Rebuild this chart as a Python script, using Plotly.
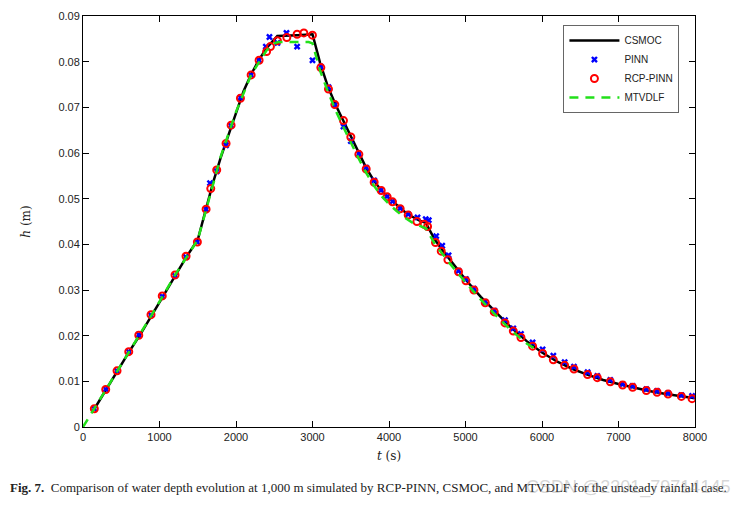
import plotly.graph_objects as go

# CSMOC reference solution
csmoc_t = [150, 300, 450, 600, 750, 900, 1050, 1200, 1350, 1500, 1600, 1700, 1800, 1900, 2000,
           2100, 2200, 2300, 2400, 2500, 2540, 2800, 3000, 3100, 3200, 3300, 3400, 3500, 3600,
           3700, 3800, 3900, 4000, 4100, 4200, 4300, 4400, 4480, 4550, 4600, 4700, 4800, 4900,
           5000, 5200, 5400, 5600, 5800, 6000, 6200, 6400, 6600, 6800, 7000, 7200, 7400, 7600,
           7800, 8000]
csmoc_h = [0.0040, 0.0082, 0.0123, 0.0164, 0.0203, 0.0244, 0.0287, 0.0330, 0.0372, 0.0410,
           0.0472, 0.0535, 0.0590, 0.0640, 0.0690, 0.0736, 0.0773, 0.0804, 0.0830, 0.0850,
           0.0856, 0.0858, 0.0860, 0.0797, 0.0746, 0.0706, 0.0672, 0.0636, 0.0601, 0.0568,
           0.0540, 0.0518, 0.0501, 0.0486, 0.0472, 0.0461, 0.0452, 0.0447, 0.0425, 0.0410,
           0.0387, 0.0365, 0.0343, 0.0323, 0.0285, 0.0250, 0.0217, 0.0188, 0.0163, 0.0143,
           0.0127, 0.0114, 0.0103, 0.0094, 0.0086, 0.0079, 0.0073, 0.0068, 0.0063]

# PINN
pinn_t = [148, 297, 445, 598, 729, 889, 1036, 1203, 1347, 1495, 1609, 1660, 1748, 1870, 1936,
          2058, 2198, 2302, 2390, 2437, 2542, 2660, 2799, 3000, 3109, 3209, 3292, 3405, 3501,
          3606, 3702, 3806, 3898, 3976, 4046, 4146, 4251, 4373, 4480, 4520, 4617, 4696, 4779,
          4909, 5006, 5110, 5258, 5376, 5516, 5625, 5725, 5877, 6008, 6148, 6296, 6418, 6596,
          6723, 6893, 7054, 7185, 7364, 7504, 7648, 7822, 7962]
pinn_h = [0.0040, 0.0083, 0.0123, 0.0165, 0.0202, 0.0245, 0.0286, 0.0331, 0.0372, 0.0405,
          0.0477, 0.0534, 0.0560, 0.0617, 0.0660, 0.0721, 0.0771, 0.0803, 0.0833, 0.0854,
          0.0841, 0.0863, 0.0833, 0.0803, 0.0789, 0.0744, 0.0705, 0.0658, 0.0626, 0.0598,
          0.0568, 0.0540, 0.0519, 0.0505, 0.0494, 0.0479, 0.0466, 0.0459, 0.0455, 0.0453,
          0.0418, 0.0397, 0.0376, 0.0342, 0.0324, 0.0303, 0.0274, 0.0255, 0.0234, 0.0216,
          0.0204, 0.0185, 0.0170, 0.0156, 0.0142, 0.0132, 0.0120, 0.0112, 0.0103, 0.0094,
          0.0090, 0.0083, 0.0079, 0.0074, 0.0070, 0.0068]

# RCP-PINN
rcp_t = [148, 297, 445, 598, 729, 889, 1036, 1203, 1347, 1495, 1609, 1670, 1748, 1870, 1936,
         2058, 2198, 2302, 2400, 2450, 2542, 2664, 2799, 2887, 2999, 3109, 3209, 3292, 3405,
         3501, 3606, 3702, 3806, 3898, 3976, 4046, 4146, 4251, 4365, 4460, 4504, 4608, 4683,
         4770, 4909, 5006, 5110, 5258, 5376, 5516, 5625, 5725, 5877, 6008, 6148, 6296, 6418,
         6596, 6723, 6893, 7054, 7185, 7364, 7504, 7648, 7822, 7962]
rcp_h = [0.0040, 0.0082, 0.0123, 0.0165, 0.0201, 0.0246, 0.0287, 0.0333, 0.0374, 0.0405,
         0.0477, 0.0522, 0.0563, 0.0621, 0.0661, 0.0720, 0.0771, 0.0803, 0.0822, 0.0833,
         0.0846, 0.0853, 0.0860, 0.0863, 0.0858, 0.0787, 0.0740, 0.0706, 0.0671, 0.0635,
         0.0597, 0.0565, 0.0536, 0.0518, 0.0504, 0.0493, 0.0478, 0.0464, 0.0450, 0.0444,
         0.0439, 0.0404, 0.0385, 0.0366, 0.0340, 0.0320, 0.0300, 0.0272, 0.0252, 0.0228,
         0.0210, 0.0196, 0.0177, 0.0161, 0.0147, 0.0135, 0.0127, 0.0115, 0.0108, 0.0099,
         0.0092, 0.0087, 0.0080, 0.0076, 0.0072, 0.0067, 0.0062]

# MTVDLF
mtv_t = [0, 150, 300, 600, 900, 1200, 1500, 1600, 1800, 2000, 2200, 2400, 2500, 2550, 2950,
         3000, 3100, 3200, 3300, 3400, 3500, 3600, 3700, 3800, 3900, 4000, 4100, 4200, 4300,
         4400, 4480, 4550, 4600, 4700, 4800, 5000, 5200, 5400, 5600, 5800, 5900]
mtv_h = [0.0, 0.0041, 0.0082, 0.0165, 0.0246, 0.0332, 0.0410, 0.0470, 0.0592, 0.0690, 0.0772,
         0.0825, 0.0840, 0.0843, 0.0843, 0.0840, 0.0780, 0.0735, 0.0694, 0.0658, 0.0623,
         0.0589, 0.0557, 0.0529, 0.0506, 0.0488, 0.0473, 0.0459, 0.0448, 0.0440, 0.0435,
         0.0415, 0.0400, 0.0379, 0.0357, 0.0317, 0.0279, 0.0244, 0.0211, 0.0183, 0.0172]

x_ticks = [0, 1000, 2000, 3000, 4000, 5000, 6000, 7000, 8000]
y_ticks = [0, 0.01, 0.02, 0.03, 0.04, 0.05, 0.06, 0.07, 0.08, 0.09]
y_tick_labels = ["0", "0.01", "0.02", "0.03", "0.04", "0.05", "0.06", "0.07", "0.08", "0.09"]

fig = go.Figure()
fig.add_trace(go.Scatter(x=csmoc_t, y=csmoc_h, mode="lines", name="CSMOC",
                         line=dict(color="black", width=2.5)))
fig.add_trace(go.Scatter(x=pinn_t, y=pinn_h, mode="markers", name="PINN",
                         marker=dict(symbol="x", color="blue", size=6,
                                     line=dict(width=0))))
fig.add_trace(go.Scatter(x=rcp_t, y=rcp_h, mode="markers", name="RCP-PINN",
                         marker=dict(symbol="circle-open", color="red", size=7,
                                     line=dict(width=2, color="red"))))
fig.add_trace(go.Scatter(x=mtv_t, y=mtv_h, mode="lines", name="MTVDLF",
                         line=dict(color="#22e01a", width=2.5, dash="9px,7px")))

axis_common = dict(showline=True, linecolor="black", linewidth=1, mirror="ticks",
                   ticks="inside", ticklen=6, tickcolor="black", showgrid=False,
                   zeroline=False, automargin=False,
                   tickfont=dict(family="Liberation Sans, Arial", size=11, color="#222"))
fig.update_xaxes(range=[0, 8000], tickvals=x_ticks,
                 title=dict(text="<i>t</i> (s)", font=dict(family="DejaVu Serif", size=12,
                                                          color="#222"), standoff=9),
                 **axis_common)
fig.update_yaxes(range=[0, 0.09], tickvals=y_ticks, ticktext=y_tick_labels,
                 title=dict(text="<i>h</i> (m)", font=dict(family="DejaVu Serif", size=12,
                                                          color="#222"), standoff=25),
                 **axis_common)

fig.update_layout(
    width=748, height=508,
    margin=dict(l=75, r=61, t=8, b=89),
    paper_bgcolor="white", plot_bgcolor="white",
    legend=dict(x=0.785, y=0.978, xanchor="left", yanchor="top",
                bordercolor="#666", borderwidth=1, bgcolor="white",
                font=dict(family="Liberation Sans, Arial", size=10, color="#222"),
                tracegroupgap=0, itemwidth=50),
    showlegend=True,
)

fig.add_annotation(
    xref="paper", yref="paper", x=-0.1225, y=-0.146, xanchor="left", yanchor="middle",
    text="<b>Fig. 7.</b>  Comparison of water depth evolution at 1,000 m simulated by RCP-PINN, CSMOC, and MTVDLF for the unsteady rainfall case.",
    showarrow=False, font=dict(family="Liberation Serif", size=13, color="#222"))
fig.add_annotation(
    xref="paper", yref="paper", x=1.06, y=-0.148, xanchor="right", yanchor="middle",
    text="CSDN @2301_79714145", showarrow=False,
    font=dict(family="Liberation Sans", size=18, color="rgba(150,150,150,0.4)"))

fig.write_html("out.html")
